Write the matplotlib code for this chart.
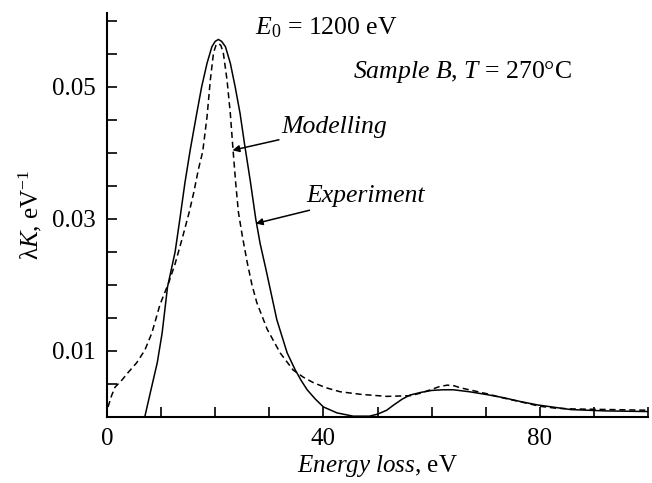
import numpy as np
import matplotlib.pyplot as plt

plt.rcParams['font.family'] = ['Liberation Serif', 'DejaVu Serif']
plt.rcParams['mathtext.fontset'] = 'custom'
plt.rcParams['mathtext.rm'] = 'Liberation Serif'
plt.rcParams['mathtext.it'] = 'Liberation Serif:italic'

# Experiment (solid)
exp_x = [7.0, 8.0, 9.3, 10.2, 11.2, 12.6, 13.5, 14.4, 15.4, 16.6, 17.5, 18.5, 19.4, 20.0, 20.6,
         21.2, 21.9, 22.8, 23.7, 24.6, 25.4, 26.5, 27.5, 28.3, 29.4, 30.4, 31.4, 33.3, 34.8,
         35.9, 37.0, 38.5, 40.0, 42.5, 45.5, 48.5, 50.0, 51.7, 53.0, 54.6, 56.0, 58.0,
         60.0, 62.0, 64.0, 67.0, 70.0, 73.3, 76.5, 79.6, 85.7, 92.0, 100.0]
exp_y = [0.0, 0.0036, 0.0082, 0.0127, 0.0197, 0.0250, 0.0301, 0.0354, 0.0405, 0.0460, 0.0500, 0.0536, 0.0561, 0.0569, 0.0572,
         0.0569, 0.0561, 0.0536, 0.0500, 0.0460, 0.0415, 0.0357, 0.0300, 0.0263, 0.0223, 0.0185, 0.0147, 0.0097, 0.0071,
         0.0055, 0.0041, 0.0027, 0.0015, 0.0006, 0.0001, 0.0001, 0.0004, 0.0010, 0.0018, 0.0027, 0.0033, 0.0037,
         0.0040, 0.0041, 0.0041, 0.0038, 0.0034, 0.0029, 0.0023, 0.0018, 0.0011, 0.0009, 0.0008]

# Modelling (dashed)
mod_x = [0.2, 0.9, 1.5, 2.8, 3.9, 5.5, 7.0, 8.3, 9.8, 11.4, 12.6, 13.9, 15.2, 16.1, 16.9,
         17.7, 18.5, 19.1, 19.7, 20.15, 20.6, 21.05, 21.5, 22.2, 22.8, 23.3, 23.8, 24.3, 25.0, 25.9,
         26.8, 27.7, 29.6, 32.0, 34.4, 36.3, 38.1, 40.5, 43.1, 47.0, 51.7, 56.0, 58.0,
         59.8, 61.5, 62.9, 64.2, 65.3, 67.5, 70.2, 73.0, 76.3, 80.0, 83.0, 86.0, 100.0]
mod_y = [0.0015, 0.0033, 0.0045, 0.0056, 0.0067, 0.0082, 0.0101, 0.0127, 0.0170, 0.0203, 0.0232, 0.0270, 0.0310, 0.0342, 0.0375,
         0.0402, 0.0455, 0.0510, 0.0552, 0.0563, 0.0566, 0.0563, 0.0552, 0.0510, 0.0460, 0.0405, 0.0354, 0.0310, 0.0275, 0.0235,
         0.0200, 0.0173, 0.0133, 0.0097, 0.0071, 0.0060, 0.0052, 0.0044, 0.0038, 0.0034, 0.0031, 0.0032, 0.0036,
         0.0041, 0.0046, 0.0048, 0.0047, 0.0044, 0.0040, 0.0035, 0.0029, 0.0023, 0.0016, 0.0013, 0.0012, 0.0010]

xticks = [0, 10, 20, 30, 40, 50, 60, 70, 80, 90, 100]
xlabels = ['0', '', '', '', '40', '', '', '', '80', '', '']
yticks = [0.005, 0.01, 0.015, 0.02, 0.025, 0.03, 0.035, 0.04, 0.045, 0.05, 0.055, 0.06]
ylabels = ['', '0.01', '', '', '', '0.03', '', '', '', '0.05', '', '']

fig = plt.figure(figsize=(6.52, 4.83), dpi=100)
ax = fig.add_axes([0.164, 0.137, 0.83, 0.836])

ax.plot(exp_x, exp_y, color='black', lw=1.1, solid_joinstyle='round')
ax.plot(mod_x, mod_y, color='black', lw=1.1, ls=(0, (4, 2.5)))

ax.set_xlim(0, 100)
ax.set_ylim(0, 0.0612)
ax.spines['top'].set_visible(False)
ax.spines['right'].set_visible(False)
ax.spines['left'].set_linewidth(1.5)
ax.spines['bottom'].set_linewidth(1.5)
ax.set_xticks(xticks)
ax.set_xticklabels(xlabels)
ax.set_yticks(yticks)
ax.set_yticklabels(ylabels)
ax.tick_params(direction='in', length=7, width=1.2, labelsize=18, pad=8)

ax.set_xlabel('$\\it{Energy\\ loss}$, eV', fontsize=18, labelpad=2)
ax.set_ylabel('λ$\\it{K}$, eV$^{-1}$', fontsize=18, labelpad=6)

ax.text(27.3, 0.0590, '$E_0$ = 1200 eV', fontsize=18.5, va='center')
ax.text(45.5, 0.0523, '$\\it{Sample\\ B}$, $\\it{T}$ = 270°C', fontsize=18.5, va='center')

arrow = dict(arrowstyle='-|>', color='black', lw=1.1, mutation_scale=10, shrinkA=0, shrinkB=0)
ax.annotate('Modelling', xy=(23.2, 0.0404), xytext=(32.3, 0.0439),
            fontsize=18.5, style='italic', va='center', arrowprops=arrow)
ax.annotate('Experiment', xy=(27.5, 0.0293), xytext=(36.8, 0.0334),
            fontsize=18.5, style='italic', va='center', arrowprops=arrow)

plt.savefig('out.png', dpi=100)
